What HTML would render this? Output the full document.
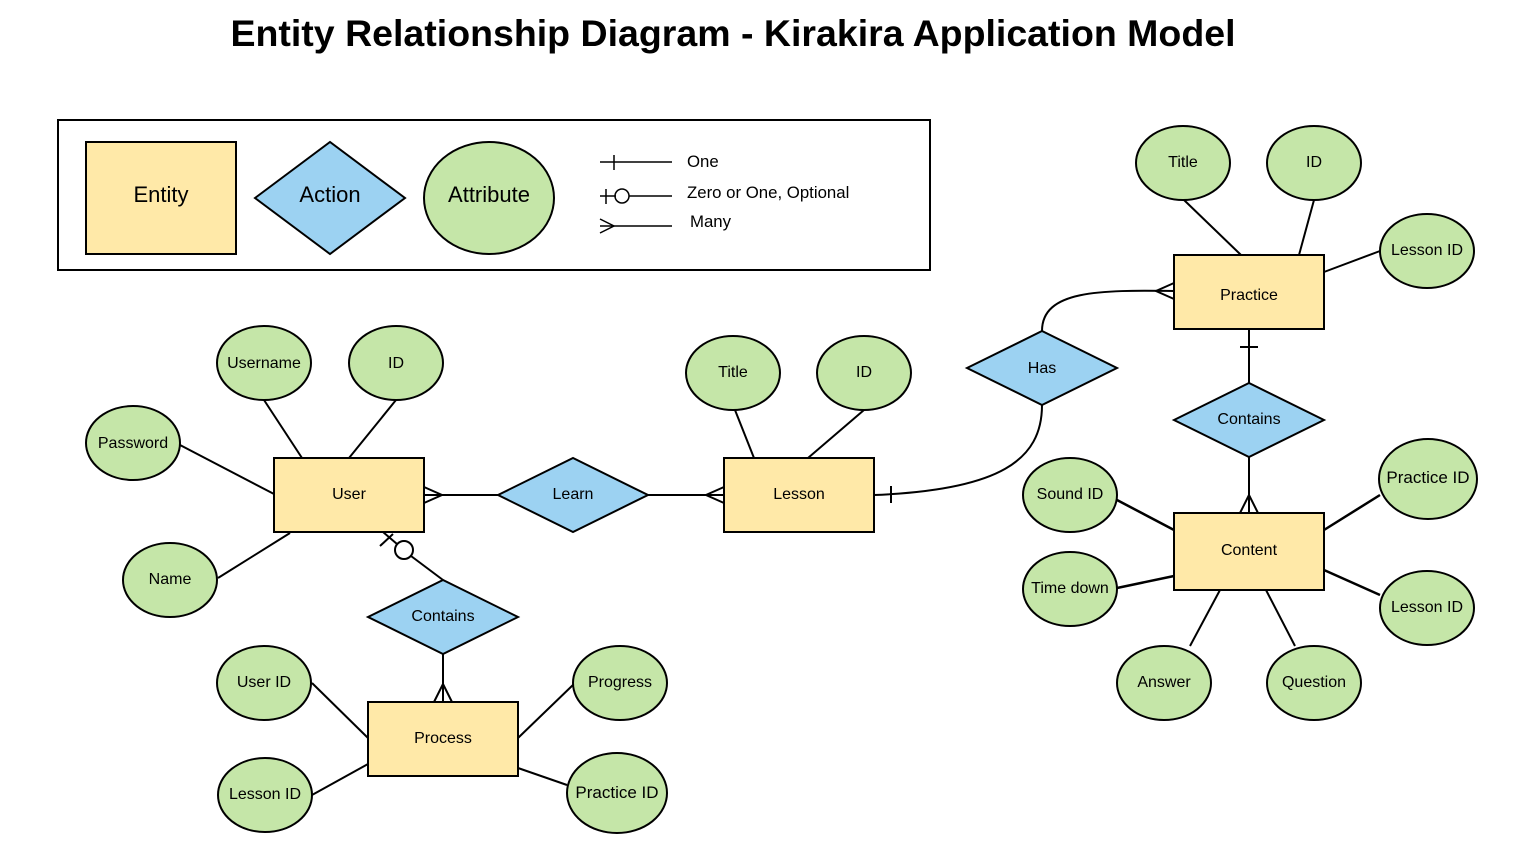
<!DOCTYPE html>
<html><head><meta charset="utf-8"><style>
html,body{margin:0;padding:0;background:#fff;}
svg{display:block;font-family:"Liberation Sans",Arial,sans-serif;}
</style></head><body>
<svg width="1525" height="849" viewBox="0 0 1525 849" xmlns="http://www.w3.org/2000/svg">
<rect width="1525" height="849" fill="#fff"/>
<text x="733" y="46" font-size="37.5" font-weight="bold" text-anchor="middle" fill="#000">Entity Relationship Diagram - Kirakira Application Model</text>

<g stroke="#000" stroke-width="2" fill="none">
<rect x="58" y="120" width="872" height="150"/>
</g>
<rect x="86" y="142" width="150" height="112" fill="#FFE9A8" stroke="#000" stroke-width="2"/>
<polygon points="255,198 330,142 405,198 330,254" fill="#9CD2F2" stroke="#000" stroke-width="2"/>
<ellipse cx="489" cy="198" rx="65" ry="56" fill="#C5E6A8" stroke="#000" stroke-width="2"/>
<g font-size="22" text-anchor="middle" fill="#000">
<text x="161" y="202">Entity</text><text x="330" y="202">Action</text><text x="489" y="202">Attribute</text>
</g>
<g stroke="#000" stroke-width="1.5" fill="none">
<line x1="600" y1="162" x2="672" y2="162"/><line x1="614" y1="155" x2="614" y2="170"/>
<line x1="600" y1="196" x2="616" y2="196"/><line x1="606" y1="189" x2="606" y2="204"/><circle cx="622" cy="196" r="7"/><line x1="629" y1="196" x2="672" y2="196"/>
<line x1="600" y1="226" x2="672" y2="226"/><polyline points="600,219 614,226 600,233"/>
</g>
<g font-size="16.8" fill="#000"><text x="687" y="167">One</text><text x="687" y="198">Zero or One, Optional</text><text x="690" y="227">Many</text></g>

<g stroke="#000" stroke-width="2" fill="none">
<line x1="264" y1="400" x2="302" y2="458"/><line x1="396" y1="400" x2="349" y2="458"/>
<line x1="180" y1="445" x2="274" y2="494"/><line x1="218" y1="578" x2="290" y2="533"/>
<line x1="424" y1="495" x2="500" y2="495"/><polyline points="424,487 442,495 424,503"/>
<line x1="648" y1="495" x2="724" y2="495"/><polyline points="724,487 706,495 724,503"/>
<line x1="735" y1="410" x2="754" y2="458"/><line x1="864" y1="410" x2="808" y2="458"/>
<path d="M874,495 C1000,490 1042,460 1042,405"/><line x1="891" y1="486" x2="891" y2="503"/>
<path d="M1042,331 C1042,290 1100,290 1174,291"/><polyline points="1174,283 1156,291 1174,299"/>
<line x1="1184" y1="200" x2="1241" y2="255"/><line x1="1314" y1="200" x2="1299" y2="255"/>
<line x1="1380" y1="251" x2="1324" y2="272"/>
<line x1="1249" y1="329" x2="1249" y2="383"/><line x1="1240" y1="347" x2="1258" y2="347"/>
<line x1="1249" y1="457" x2="1249" y2="513"/><polyline points="1240,513 1249,495 1258,513"/>
<line x1="1117" y1="500" x2="1174" y2="530" stroke-width="2.5"/><line x1="1117" y1="588" x2="1174" y2="576" stroke-width="2.5"/>
<line x1="1380" y1="495" x2="1324" y2="530" stroke-width="2.5"/><line x1="1380" y1="595" x2="1324" y2="570" stroke-width="2.5"/>
<line x1="1190" y1="646" x2="1220" y2="590"/><line x1="1295" y1="646" x2="1266" y2="590"/>
<line x1="383" y1="532" x2="397" y2="544"/><line x1="380" y1="546" x2="393" y2="534"/>
<circle cx="404" cy="550" r="9"/><line x1="411" y1="556" x2="443" y2="580"/>
<line x1="443" y1="654" x2="443" y2="702"/><polyline points="434,702 443,684 452,702"/>
<line x1="312" y1="683" x2="368" y2="738"/><line x1="312" y1="795" x2="368" y2="764"/>
<line x1="575" y1="683" x2="518" y2="738"/><line x1="567" y1="785" x2="518" y2="768"/>
</g>

<g fill="#FFE9A8" stroke="#000" stroke-width="2">
<rect x="274" y="458" width="150" height="74"/>
<rect x="724" y="458" width="150" height="74"/>
<rect x="1174" y="255" width="150" height="74"/>
<rect x="1174" y="513" width="150" height="77"/>
<rect x="368" y="702" width="150" height="74"/>
</g>
<g fill="#9CD2F2" stroke="#000" stroke-width="2">
<polygon points="498,495 573,458 648,495 573,532"/>
<polygon points="967,368 1042,331 1117,368 1042,405"/>
<polygon points="1174,420 1249,383 1324,420 1249,457"/>
<polygon points="368,617 443,580 518,617 443,654"/>
</g>
<g fill="#C5E6A8" stroke="#000" stroke-width="2">
<ellipse cx="264" cy="363" rx="47" ry="37"/><ellipse cx="396" cy="363" rx="47" ry="37"/>
<ellipse cx="133" cy="443" rx="47" ry="37"/><ellipse cx="170" cy="580" rx="47" ry="37"/>
<ellipse cx="733" cy="373" rx="47" ry="37"/><ellipse cx="864" cy="373" rx="47" ry="37"/>
<ellipse cx="1183" cy="163" rx="47" ry="37"/><ellipse cx="1314" cy="163" rx="47" ry="37"/>
<ellipse cx="1427" cy="251" rx="47" ry="37"/>
<ellipse cx="1070" cy="495" rx="47" ry="37"/><ellipse cx="1070" cy="589" rx="47" ry="37"/>
<ellipse cx="1428" cy="479" rx="49" ry="40"/><ellipse cx="1427" cy="608" rx="47" ry="37"/>
<ellipse cx="1164" cy="683" rx="47" ry="37"/><ellipse cx="1314" cy="683" rx="47" ry="37"/>
<ellipse cx="264" cy="683" rx="47" ry="37"/><ellipse cx="265" cy="795" rx="47" ry="37"/>
<ellipse cx="620" cy="683" rx="47" ry="37"/><ellipse cx="617" cy="793" rx="50" ry="40"/>
</g>
<g font-size="16" text-anchor="middle" fill="#000">
<text x="349" y="499">User</text><text x="573" y="499">Learn</text><text x="799" y="499">Lesson</text>
<text x="1042" y="373">Has</text><text x="1249" y="300">Practice</text><text x="1249" y="424">Contains</text>
<text x="1249" y="555">Content</text><text x="443" y="621">Contains</text><text x="443" y="743">Process</text>
<text x="264" y="368">Username</text><text x="396" y="368">ID</text><text x="133" y="448">Password</text><text x="170" y="584">Name</text>
<text x="733" y="377">Title</text><text x="864" y="377">ID</text>
<text x="1183" y="167">Title</text><text x="1314" y="167">ID</text><text x="1427" y="255">Lesson ID</text>
<text x="1070" y="499">Sound ID</text><text x="1070" y="593">Time down</text>
<text x="1428" y="483" font-size="17">Practice ID</text><text x="1427" y="612">Lesson ID</text>
<text x="1164" y="687">Answer</text><text x="1314" y="687">Question</text>
<text x="264" y="687">User ID</text><text x="265" y="799">Lesson ID</text>
<text x="620" y="687">Progress</text><text x="617" y="798" font-size="17">Practice ID</text>
</g>
</svg>
</body></html>
